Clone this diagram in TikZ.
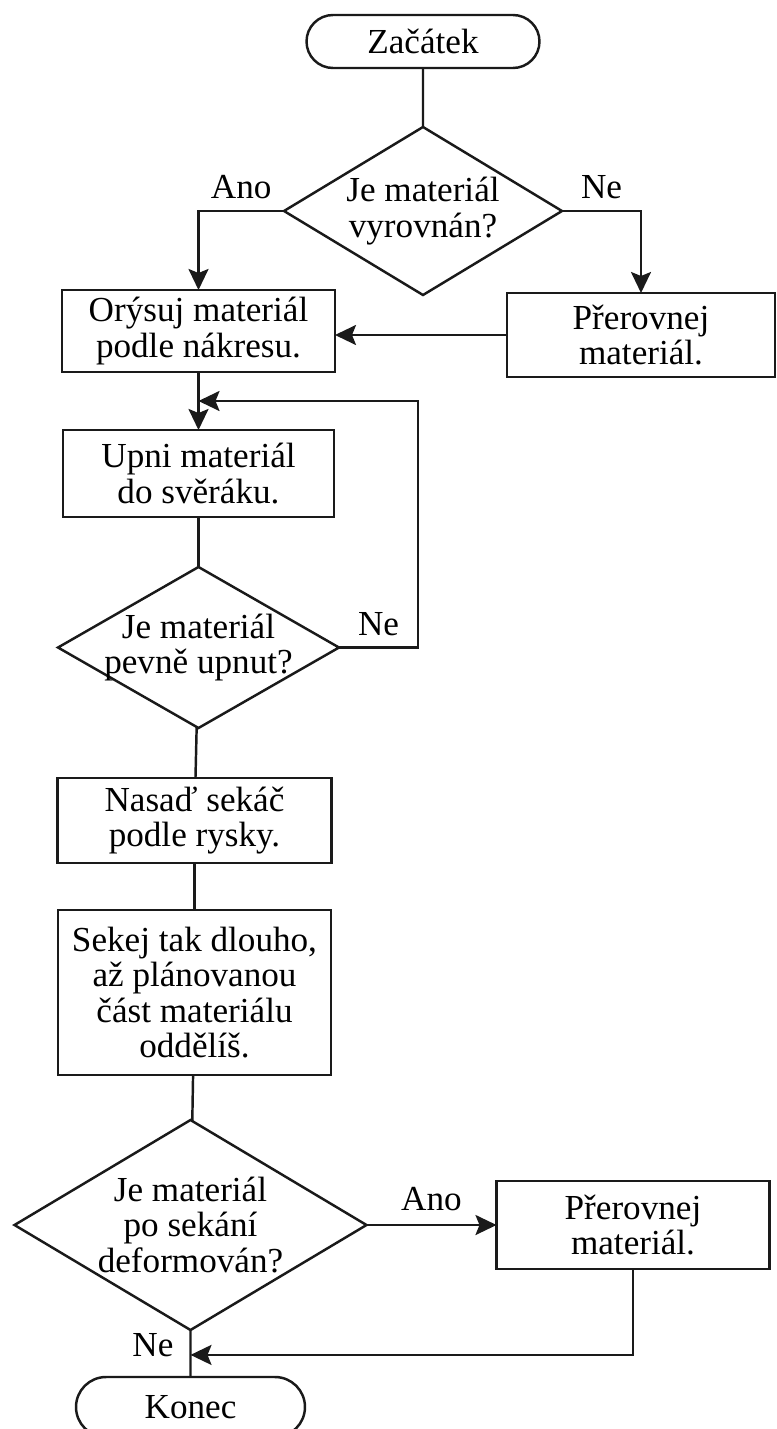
\documentclass[tikz,border=0pt]{standalone}
\usepackage{fontspec}
\setmainfont{Liberation Serif}
\usepackage{tikz}
\usetikzlibrary{arrows.meta,positioning,shapes.geometric,shapes.misc,calc}
\definecolor{ink}{HTML}{1A1A1A}

\begin{document}
\begin{tikzpicture}[
    font=\fontsize{20}{20}\selectfont,
    box/.style={draw=ink, line width=1.4pt, fill=white, align=center, inner sep=2pt, outer sep=0pt},
    term/.style={rounded rectangle, draw=ink, line width=1.4pt, fill=white, minimum width=4.8cm, minimum height=1.06cm, inner sep=2pt, outer sep=0pt},
    decision/.style={diamond, draw=ink, line width=1.4pt, fill=white, align=center, inner sep=-3pt, outer sep=0pt},
    arr/.style={-{Stealth[length=0.42cm,width=0.4cm,inset=0.08cm]}, line width=1.4pt, draw=ink},
    conn/.style={line width=1.4pt, draw=ink},
    tag/.style={above, yshift=0.1cm}
  ]
  \useasboundingbox (0,0) rectangle (15.52,-28.58);

  \node[term] (start) at (8.46,-0.83) {Začátek};
  \node[decision, below=1.18cm of start, minimum width=5.56cm, minimum height=3.36cm, aspect=1.655] (d1) {Je materiál\\vyrovnán?};
  \node[box, minimum width=5.46cm, minimum height=1.64cm] (mark) at (3.97,-6.62) {Orýsuj materiál\\podle nákresu.};
  \node[box, minimum width=5.36cm, minimum height=1.68cm] (fix1) at (12.82,-6.7) {Přerovnej\\materiál.};
  \node[box, below=1.16cm of mark, minimum width=5.42cm, minimum height=1.74cm] (clamp) {Upni materiál\\do svěráku.};
  \node[decision, below=1.0cm of clamp, minimum width=5.62cm, minimum height=3.22cm, aspect=1.745] (d2) {Je materiál\\pevně upnut?};
  \node[box, below=1.0cm of d2, xshift=-0.08cm, minimum width=5.48cm, minimum height=1.7cm] (place) {Nasaď sekáč\\podle rysky.};
  \node[box, below=0.94cm of place, minimum width=5.46cm, minimum height=3.3cm] (cut) {Sekej tak dlouho,\\až plánovanou\\část materiálu\\oddělíš.};
  \node[decision, below=0.9cm of cut, xshift=-0.08cm, minimum width=7.04cm, minimum height=4.2cm, aspect=1.676] (d3) {Je materiál\\po sekání\\deformován?};
  \node[box, right=2.6cm of d3, minimum width=5.46cm, minimum height=1.76cm] (fix2) {Přerovnej\\materiál.};
  \node[term, below=0.94cm of d3, minimum width=4.72cm, minimum height=1.2cm] (end) {Konec};

  \coordinate (join) at ($(mark.south)!0.5!(clamp.north)$);
  \coordinate (merge) at ($(d3.south)!0.53!(end.north)$);

  \draw[conn] (start) -- (d1);
  \draw[arr] (d1.west) -| node[pos=0.25, tag]{Ano} (mark.north);
  \draw[arr] (d1.east) -| node[pos=0.25, tag]{Ne} (fix1.north);
  \draw[arr] (fix1.west) -- (fix1.west -| mark.east);
  \draw[arr] (mark) -- (clamp);
  \draw[conn] (clamp) -- (d2);
  \draw[arr] (d2.east) -- node[tag]{Ne} ++(1.58,0) |- (join);
  \draw[conn] (d2) -- (place);
  \draw[conn] (place) -- (cut);
  \draw[conn] (cut) -- (d3);
  \draw[arr] (d3.east) -- node[tag, yshift=0.05cm]{Ano} (d3.east -| fix2.west);
  \draw[conn] (d3) -- node[pos=0.32, left, xshift=-0.2cm]{Ne} (end);
  \draw[arr] (fix2.south) |- (merge);
\end{tikzpicture}
\end{document}
